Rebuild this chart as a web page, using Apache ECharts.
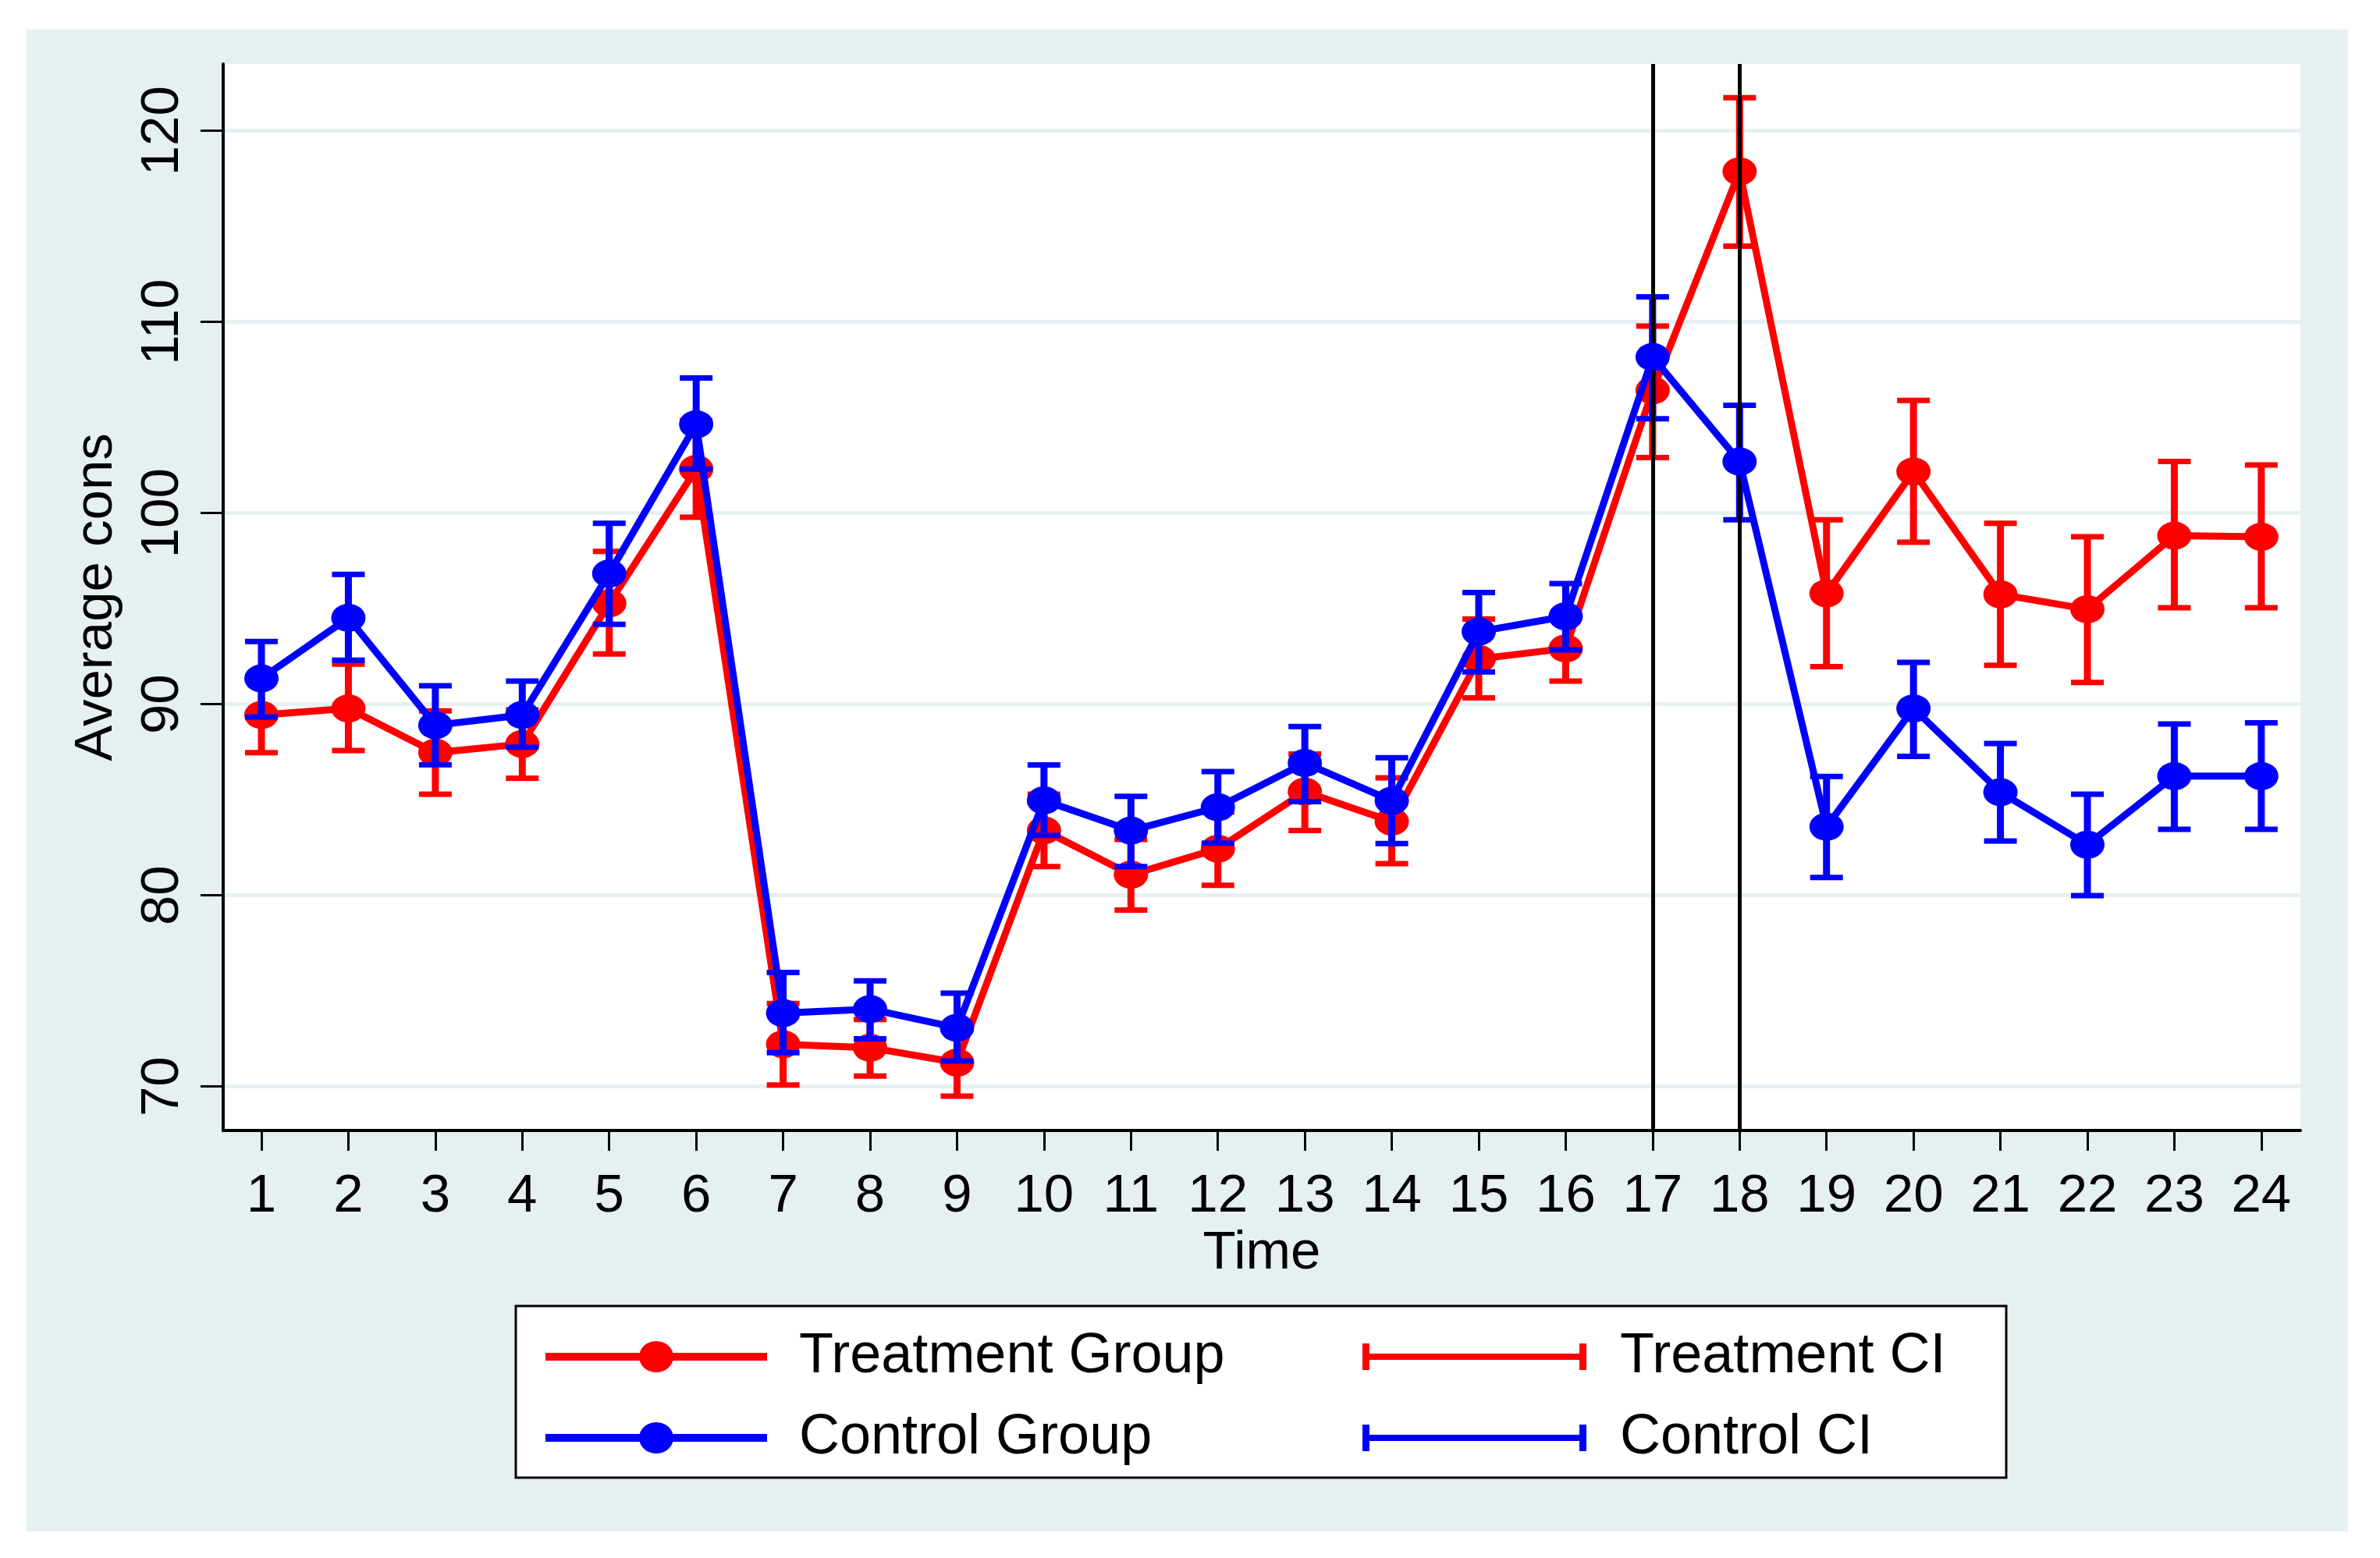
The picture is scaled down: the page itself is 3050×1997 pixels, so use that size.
<!DOCTYPE html>
<html>
<head>
<meta charset="utf-8">
<script src="https://cdn.jsdelivr.net/npm/echarts@6/dist/echarts.min.js"></script>
<style>
html,body{margin:0;padding:0;background:#fff;}
#chart{width:3050px;height:1997px;}
</style>
</head>
<body>
<div id="chart"></div>
<script>
// ---- data ----
const time = [1,2,3,4,5,6,7,8,9,10,11,12,13,14,15,16,17,18,19,20,21,22,23,24];
const treatMean = [89.44,89.78,87.47,87.92,95.28,102.31,72.21,72.03,71.25,83.40,81.08,82.44,85.43,83.86,92.37,92.92,106.42,117.88,95.80,102.18,95.75,94.97,98.82,98.76];
const treatLo   = [87.47,87.58,85.29,86.13,92.63,99.78,70.08,70.55,69.50,81.51,79.23,80.53,83.39,81.66,90.33,91.21,102.91,113.97,91.97,98.48,92.04,91.14,95.05,95.05];
const treatHi   = [91.41,92.10,89.65,89.71,98.00,104.84,74.34,73.51,73.00,85.29,82.93,84.35,87.40,86.15,94.46,94.63,109.78,121.73,99.65,105.90,99.47,98.76,102.70,102.52];
const ctrlMean  = [91.35,94.52,88.90,89.44,96.84,104.65,73.84,74.05,73.07,84.97,83.39,84.61,86.93,84.95,93.80,94.60,108.17,102.70,83.59,89.78,85.40,82.65,86.24,86.24];
const ctrlLo    = [89.33,92.30,86.83,87.75,94.18,102.30,71.77,72.50,71.33,83.14,81.51,82.73,84.91,82.71,91.69,92.84,104.94,99.65,80.94,87.27,82.84,79.99,83.46,83.46];
const ctrlHi    = [93.28,96.79,90.97,91.21,99.47,107.07,75.97,75.53,74.88,86.82,85.18,86.48,88.83,87.20,95.84,96.31,111.32,105.64,86.22,92.19,87.95,85.29,88.97,89.03];
const yTicks = [70,80,90,100,110,120];
const xTicks = time;
const eventLines = [17,18];
const seriesNames = ['Treatment Group','Control Group','Treatment CI','Control CI'];

const RED = '#ff0000', BLUE = '#0000ff';
const FONT = '"Liberation Sans", Arial, sans-serif';

function ciRender(color){
  return function(params, api){
    const x = api.value(0);
    const pLo = api.coord([x, api.value(1)]);
    const pHi = api.coord([x, api.value(2)]);
    const hw = 21;
    return {
      type:'group',
      children:[
        {type:'line', shape:{x1:pLo[0], y1:pLo[1], x2:pHi[0], y2:pHi[1]}, style:{stroke:color, lineWidth:9}},
        {type:'line', shape:{x1:pHi[0]-hw, y1:pHi[1], x2:pHi[0]+hw, y2:pHi[1]}, style:{stroke:color, lineWidth:7}},
        {type:'line', shape:{x1:pLo[0]-hw, y1:pLo[1], x2:pLo[0]+hw, y2:pLo[1]}, style:{stroke:color, lineWidth:7}}
      ]
    };
  };
}

// legend glyphs (shape only, sized by itemWidth/itemHeight)
const ciIcon = 'path://M0,0h9v34h-9z M9,13h269v8h-269z M278,0h9v34h-9z';
const groupIcon = 'path://M0,17h284v10h-284z M120,22a22,20 0 1,1 44,0a22,20 0 1,1 -44,0z';

const chart = echarts.init(document.getElementById('chart'), null, {renderer:'canvas'});
chart.setOption({
  animation:false,
  backgroundColor:'#ffffff',
  textStyle:{fontFamily:FONT},
  graphic:{elements:[
    {type:'rect', z:-100, shape:{x:34, y:38, width:2975, height:1925}, style:{fill:'#e7f0f1'}},
    {type:'rect', z:-50, shape:{x:661, y:1674, width:1910, height:220}, style:{fill:'#ffffff', stroke:'#000', lineWidth:3}}
  ]},
  grid:{left:286, top:82, right:102, bottom:548, show:true, backgroundColor:'#ffffff', borderWidth:0, containLabel:false},
  legend:[
    {
      data:[{name:seriesNames[0], icon:groupIcon},{name:seriesNames[1], icon:groupIcon}],
      orient:'vertical', left:694, top:1698,
      itemWidth:284, itemHeight:40, itemGap:32,
      textStyle:{fontSize:72, color:'#000', fontFamily:FONT, padding:[0,0,0,36]},
      selectedMode:false
    },
    {
      data:[{name:seriesNames[2], icon:ciIcon},{name:seriesNames[3], icon:ciIcon}],
      orient:'vertical', left:1741, top:1698,
      itemWidth:287, itemHeight:34, itemGap:32,
      textStyle:{fontSize:72, color:'#000', fontFamily:FONT, padding:[0,0,0,38]},
      selectedMode:false
    }
  ],
  xAxis:{
    type:'value', min:0.56, max:24.45,
    name:'Time', nameLocation:'middle', nameGap:116,
    nameTextStyle:{fontSize:69, color:'#000', fontFamily:FONT},
    axisLine:{show:true, onZero:false, lineStyle:{color:'#000', width:4}},
    axisTick:{show:true, customValues:xTicks, length:26, lineStyle:{color:'#000', width:3}},
    axisLabel:{customValues:xTicks, fontSize:69, color:'#000', margin:50, fontFamily:FONT},
    splitLine:{show:false}
  },
  yAxis:{
    type:'value', min:67.7, max:123.5,
    name:'Average cons', nameLocation:'middle', nameGap:128,
    nameTextStyle:{fontSize:69, color:'#000', fontFamily:FONT},
    axisLine:{show:true, lineStyle:{color:'#000', width:4}},
    axisTick:{show:true, customValues:yTicks, length:29, lineStyle:{color:'#000', width:3}},
    axisLabel:{customValues:yTicks, rotate:90, fontSize:69, color:'#000', margin:43, fontFamily:FONT},
    splitLine:{show:true, lineStyle:{color:'#e6eff1', width:5}}
  },
  series:[
    {
      name:seriesNames[2], type:'custom', z:2,
      renderItem:ciRender(RED),
      itemStyle:{color:RED},
      encode:{x:0, y:[1,2]},
      data:time.map((t,i)=>[t, treatLo[i], treatHi[i]]),
      markLine:{
        silent:true, symbol:['none','none'], label:{show:false},
        lineStyle:{color:'#000', width:5, type:'solid'},
        data:eventLines.map(v=>({xAxis:v}))
      }
    },
    {
      name:seriesNames[0], type:'line', z:3,
      symbol:'circle', symbolSize:[44,36],
      lineStyle:{color:RED, width:9},
      itemStyle:{color:RED},
      data:time.map((t,i)=>[t, treatMean[i]])
    },
    {
      name:seriesNames[3], type:'custom', z:4,
      renderItem:ciRender(BLUE),
      itemStyle:{color:BLUE},
      encode:{x:0, y:[1,2]},
      data:time.map((t,i)=>[t, ctrlLo[i], ctrlHi[i]])
    },
    {
      name:seriesNames[1], type:'line', z:5,
      symbol:'circle', symbolSize:[44,36],
      lineStyle:{color:BLUE, width:9},
      itemStyle:{color:BLUE},
      data:time.map((t,i)=>[t, ctrlMean[i]])
    }
  ]
});
</script>
</body>
</html>
